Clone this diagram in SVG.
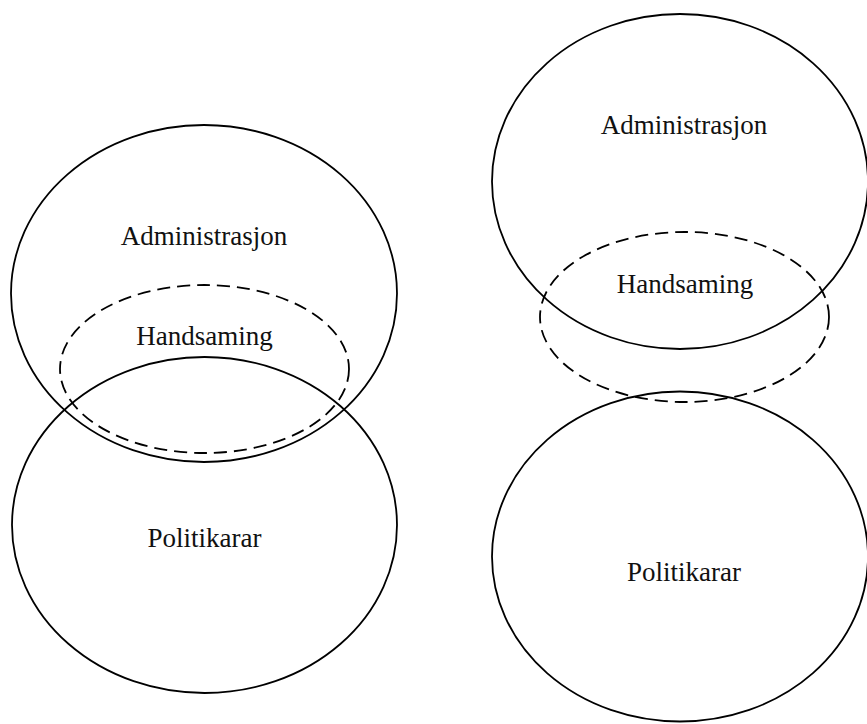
<svg xmlns="http://www.w3.org/2000/svg" width="867" height="724" viewBox="0 0 867 724">
<style>
.e{fill:none;stroke:#000;stroke-width:1.8}
.d{fill:none;stroke:#000;stroke-width:1.8;stroke-dasharray:13 7}
.t{font-family:"Liberation Serif",serif;font-size:27px;fill:#111;text-anchor:middle}
</style>
<rect width="867" height="724" fill="#fff"/>
<g id="left-admin"><ellipse class="e" cx="204" cy="293.5" rx="193" ry="168.5"/><text class="t" x="204" y="245">Administrasjon</text></g>
<g id="left-handsaming"><ellipse class="d" cx="204.5" cy="369" rx="144.5" ry="84"/><text class="t" x="204.5" y="345">Handsaming</text></g>
<g id="left-politikarar"><ellipse class="e" cx="204.5" cy="525" rx="192.5" ry="168"/><text class="t" x="204.5" y="547">Politikarar</text></g>
<g id="right-admin"><ellipse class="e" cx="680" cy="181.5" rx="188" ry="167.5"/><text class="t" x="684" y="134">Administrasjon</text></g>
<g id="right-handsaming"><ellipse class="d" cx="684.5" cy="317" rx="144.5" ry="85"/><text class="t" x="685" y="293">Handsaming</text></g>
<g id="right-politikarar"><ellipse class="e" cx="680" cy="556.5" rx="188" ry="165"/><text class="t" x="684" y="581">Politikarar</text></g>
<g id="connectors"></g>
</svg>
